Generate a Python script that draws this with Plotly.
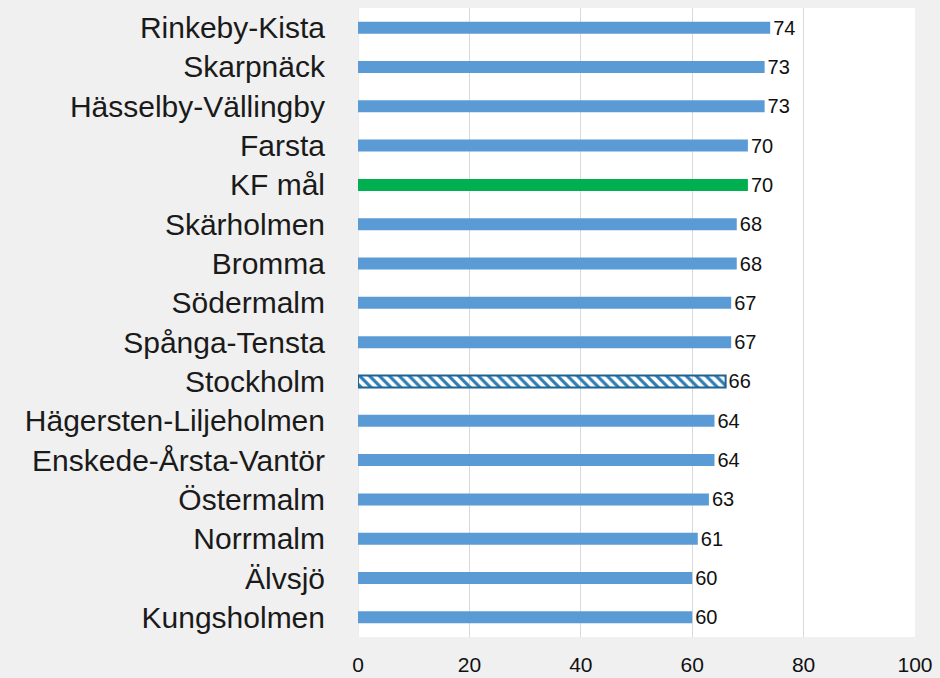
import plotly.graph_objects as go

categories = ["Rinkeby-Kista", "Skarpnäck", "Hässelby-Vällingby", "Farsta", "KF mål",
              "Skärholmen", "Bromma", "Södermalm", "Spånga-Tensta", "Stockholm",
              "Hägersten-Liljeholmen", "Enskede-Årsta-Vantör", "Östermalm", "Norrmalm",
              "Älvsjö", "Kungsholmen"]
values = [74, 73, 73, 70, 70, 68, 68, 67, 67, 66, 64, 64, 63, 61, 60, 60]
x_ticks = [0, 20, 40, 60, 80, 100]

BLUE = "#5b9bd5"
GREEN = "#00b050"
colors = []
for c in categories:
    if c == "KF mål":
        colors.append(GREEN)
    elif c == "Stockholm":
        colors.append("#2d7db3")
    else:
        colors.append(BLUE)

line_colors = ["#1f6391" if c == "Stockholm" else "rgba(0,0,0,0)" for c in categories]
line_widths = [2 if c == "Stockholm" else 0 for c in categories]
shapes = ["\\" if c == "Stockholm" else "" for c in categories]

fig = go.Figure(go.Bar(
    y=categories, x=values, orientation="h",
    marker=dict(color=colors,
                line=dict(color=line_colors, width=line_widths),
                pattern=dict(shape=shapes, fgcolor="#cdebf8", bgcolor="#2d7db3",
                             size=7, solidity=0.45, fillmode="replace")),
    text=[str(v) for v in values], textposition="outside",
    constraintext="none",
    textfont=dict(family="Liberation Sans, Arial", size=20, color="#111111"),
    cliponaxis=False,
    hoverinfo="skip",
))

fig.update_layout(
    width=940, height=678,
    margin=dict(l=358, r=25, t=8, b=41, autoexpand=False),
    paper_bgcolor="#f0f0f0", plot_bgcolor="#ffffff",
    bargap=0.695, showlegend=False,
    font=dict(family="Liberation Sans, Arial", color="#111111"),
)
fig.update_xaxes(range=[0, 100], tickvals=x_ticks, showgrid=True, gridcolor="#d9d9d9",
                 gridwidth=1, zeroline=False, showline=False, automargin=False,
                 tickfont=dict(size=21), ticks="outside", ticklen=9,
                 tickcolor="rgba(0,0,0,0)")
fig.update_yaxes(autorange="reversed", showgrid=False, showline=False, automargin=False,
                 tickfont=dict(size=30, color="#1a1a1a"), ticklabelstandoff=32)
fig.add_shape(type="line", xref="x", yref="paper", x0=0, x1=0, y0=0, y1=1,
              line=dict(color="#d9d9d9", width=1), layer="below")

fig.write_html("out.html", config={"displayModeBar": False},
               post_script="document.body.style.margin='0';document.body.style.background='#f0f0f0';")
